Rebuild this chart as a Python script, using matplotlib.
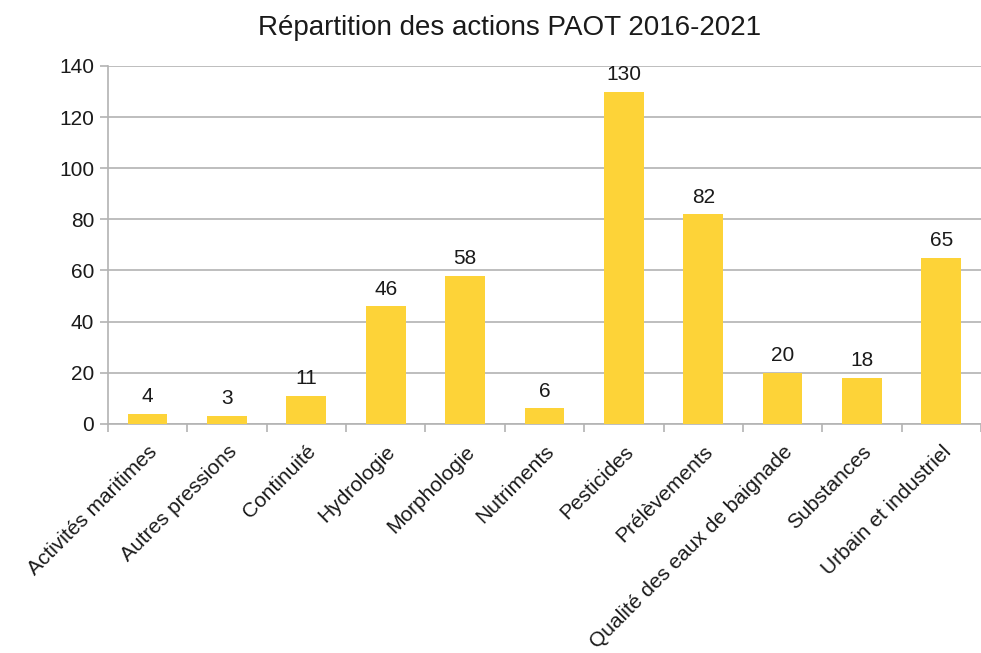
import matplotlib.pyplot as plt
import numpy as np

plt.rcParams['font.family'] = ['Liberation Sans', 'DejaVu Sans']

# Données
categories = ['Activités maritimes', 'Autres pressions', 'Continuité', 'Hydrologie',
              'Morphologie', 'Nutriments', 'Pesticides', 'Prélèvements',
              'Qualité des eaux de baignade', 'Substances', 'Urbain et industriel']
valeurs = [4, 3, 11, 46, 58, 6, 130, 82, 20, 18, 65]
yticks = [0, 20, 40, 60, 80, 100, 120, 140]

fig = plt.figure(figsize=(9.81, 6.53), dpi=100)
ax = fig.add_axes([0.110, 0.351, 0.890, 0.548])

x = np.arange(len(categories))
bars = ax.bar(x, valeurs, width=0.5, color='#FDD338', zorder=3)
for b, v in zip(bars, valeurs):
    ax.text(b.get_x() + b.get_width() / 2, v + 3, str(v), ha='center', va='bottom',
            fontsize=15, color='#1a1a1a')

ax.set_xlim(-0.5, len(categories) - 0.5)
ax.set_ylim(0, 140)
ax.set_yticks(yticks)
ax.set_yticklabels([str(t) for t in yticks], fontsize=15, color='#1a1a1a')
ax.yaxis.grid(True, color='#b3b3b3', linewidth=1.2, zorder=0)

# ticks x entre les catégories, libellés au centre
ax.set_xticks(np.arange(len(categories) + 1) - 0.5)
ax.set_xticklabels([])
ax.set_xticks(x, minor=True)
ax.set_xticklabels(categories, minor=True, rotation=45, ha='right',
                   rotation_mode='anchor', fontsize=15, color='#1a1a1a')
ax.tick_params(axis='x', which='minor', length=0, pad=13)
ax.tick_params(axis='x', which='major', length=6, color='#b3b3b3', width=1.2)
ax.tick_params(axis='y', length=6, color='#b3b3b3', width=1.2, pad=4)

for s in ['top', 'right']:
    ax.spines[s].set_visible(False)
for s in ['left', 'bottom']:
    ax.spines[s].set_color('#b3b3b3')
    ax.spines[s].set_linewidth(1.2)

fig.text(0.519, 0.957, 'Répartition des actions PAOT 2016-2021', ha='center', va='center',
         fontsize=20, color='#1a1a1a')

fig.savefig('out.png', dpi=100)
